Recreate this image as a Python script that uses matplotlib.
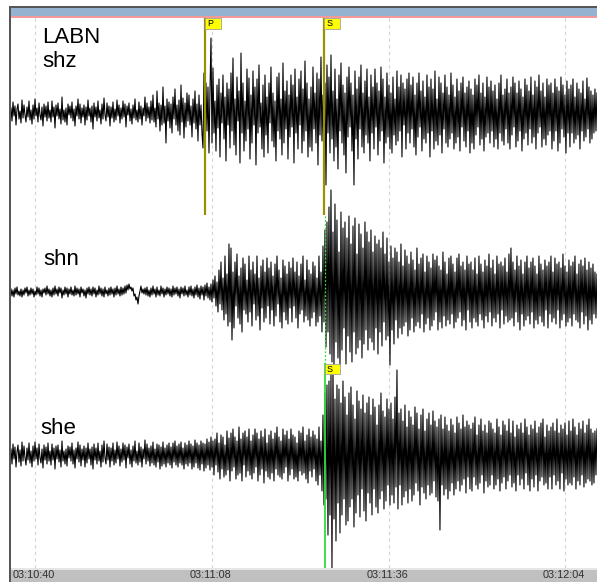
import numpy as np
import matplotlib
matplotlib.use("Agg")
import matplotlib.pyplot as plt
from matplotlib.patches import Rectangle

plt.rcParams['font.family'] = ['Liberation Sans', 'DejaVu Sans']

# ---- data -------------------------------------------------------------
station = "LABN"
channels = ["shz", "shn", "she"]

# time axis: seconds after 03:10:00
t_start = 36.2
dt = 0.15835
t_end = 129.0
tick_seconds = [40, 68, 96, 124]

# picks (seconds after 03:10:00)
pick_p = 66.9
pick_s = 85.8
pick_s_she = 85.85

# trace samples (amplitude, positive up)
shz = [
    5, -8, 11, -3, 7, -12, 4, 9, -6, 2, -10, 13, -5, 8, -2, -9, 6, -4, 12, -7,
    3, -11, 8, -6, 14, -3, 5, -9, 10, -2, -7, 6, -13, 9, -4, 7, -8, 11, -5, 3,
    -9, 12, -4, 6, -15, 8, -3, 10, -6, 4, -11, 16, -7, 3, -9, 5, -12, 9, -2, 7,
    -5, 11, -8, 4, -13, 7, -3, 14, -6, 9, -10, 5, -4, 8, -12, 6, -7, 13, -3, 5,
    -9, 7, -16, 10, -4, 6, -8, 12, -5, 3, -11, 9, -6, 15, -2, -8, 10, -4, 7, -13,
    6, -5, 11, -9, 4, -7, 13, -3, 8, -10, 5, -6, 12, -4, 9, -14, 7, -2, 10, -8,
    4, -11, 8, -5, 14, -7, 3, -9, 11, -6, 7, -12, 5, -3, 16, -8, 10, -5, 6, -10,
    12, -7, 18, -9, 5, -14, 22, -6, 10, -18, 8, -12, 26, -10, 7, -30, 14, -8, 11, -15,
    9, -20, 16, -6, 24, -12, 8, -18, 13, -22, 28, -9, 15, -25, 10, -14, 20, -8, 18, -12,
    7, -24, 14, -10, 22, -16, 9, -28, 18, -12, 8, -20, -35, 40, -25, 30, -18, 26, -40, 22,
    75, -30, 45, -20, 12, -38, 28, -15, 34, -44, 20, -10, 38, -26, 16, -48, 30, -12, 24, -35,
    40, -18, 55, -32, 14, -42, 36, -8, 22, -50, 60, -20, 30, -38, 12, -28, 44, -16, 35, -46,
    18, -30, 42, -12, 26, -52, 34, -20, 48, -14, 10, -36, 28, -44, 38, -22, 16, -40, 30, -10,
    46, -28, 20, -34, 12, -48, 36, -18, 40, -26, 14, -42, 50, -30, 22, -16, 32, -46, 18, -24,
    38, -14, 28, -50, 44, -20, 16, -36, 34, -12, 42, -40, 24, -28, 52, -18, 30, -44, 14, -34,
    26, -38, 46, -16, 20, -30, 40, -52, 34, -22, 56, -28, 18, -44, 30, -72, 48, -20, 36, -40,
    58, -26, 22, -48, 44, -34, 14, -56, 38, -18, 50, -30, 28, -42, 20, -60, 36, -24, 46, -14,
    30, -38, 18, -72, 42, -26, 24, -46, 36, -16, 48, -34, 20, -40, 32, -22, 44, -30, 16, -48,
    38, -20, 26, -36, 44, -14, 30, -42, 22, -28, 46, -18, 34, -50, 16, -30, 40, -24, 28, -36,
    20, -40, 36, -22, 14, -32, 42, -28, 26, -18, 38, -44, 30, -12, 24, -36, 34, -20, 40, -30,
    28, -16, 36, -34, 18, -42, 30, -24, 40, -14, 22, -38, 32, -26, 16, -30, 38, -20, 26, -44,
    34, -18, 24, -36, 42, -28, 14, -32, 36, -22, 30, -40, 20, -16, 38, -30, 26, -34, 18, -26,
    40, -20, 28, -36, 16, -30, 34, -24, 22, -38, 30, -14, 36, -28, 20, -34, 26, -18, 32, -40,
    24, -30, 18, -36, 34, -22, 28, -14, 38, -32, 20, -26, 30, -38, 16, -24, 36, -20, 26, -30,
    32, -18, 22, -34, 28, -26, 14, -36, 30, -20, 38, -28, 18, -32, 24, -16, 34, -30, 20, -36,
    26, -22, 36, -14, 30, -34, 20, -28, 32, -18, 24, -38, 16, -26, 34, -20, 28, -32, 22, -16,
    36, -30, 18, -24, 32, -36, 26, -20, 38, -14, 22, -34, 30, -26, 16, -32, 34, -22, 28, -18,
    30, -36, 20, -28, 34, -18, 26, -38, 22, -30, 36, -16, 28, -24, 18, -40, 32, -20, 24, -34,
    28, -20, 34, -30, 16, -26, 30, -22, 24, -36, 20, -18, 32, -28, 14, -24, 35, -16, 26, -30,
    22, -26, 18, -20, 24, -18, 20,
]

shn = [
    3, -4, 2, -5, 4, -2, 5, -3, 1, -4, 3, -5, 2, -3, 4, -1, 5, -4, 2, -3,
    4, -2, 3, -5, 1, -3, 5, -2, 4, -4, 2, -5, 3, -1, 4, -3, 6, -2, 3, -4,
    2, -5, 4, -3, 6, -2, 3, -4, 5, -1, 4, -6, 2, -3, 5, -2, 4, -5, 3, -2,
    5, -3, 2, -4, 6, -3, 4, -2, 3, -5, 5, -1, 3, -4, 2, -6, 4, -2, 5, -3,
    3, -4, 5, -2, 4, -5, 2, -3, 6, -2, 4, -4, 3, -5, 5, -2, 2, -4, 4, -3,
    5, -2, 3, -5, 4, -3, 6, -2, 3, -4, 5, -3, 4, -2, 6, -1, 7, 2, 8, 3,
    5, 1, 4, -4, -2, -8, -5, -12, -4, 1, 6, -1, 3, -2, 4, -3, 5, -4, 2, -5,
    4, -3, 6, -2, 3, -5, 5, -3, 2, -4, 6, -2, 4, -5, 3, -3, 5, -2, 4, -4,
    3, -5, 6, -3, 4, -2, 5, -4, 3, -6, 5, -2, 4, -4, 6, -3, 2, -5, 5, -3,
    6, -4, 3, -6, 5, -3, 7, -5, 4, -7, 6, -3, 5, -8, 7, -4, 9, -6, 5, -8,
    8, -10, 12, -6, 16, -14, 10, -20, 22, -12, 30, -18, 14, -28, 36, -22, 18, -34, 48, -30,
    44, -48, 20, -36, 30, -14, 38, -26, 16, -32, 24, -40, 34, -18, 28, -22, 12, -30, 36, -20,
    22, -34, 30, -12, 18, -28, 36, -24, 14, -38, 26, -16, 32, -30, 20, -26, 34, -14, 24, -32,
    30, -18, 16, -34, 28, -24, 36, -12, 22, -30, 14, -36, 32, -20, 26, -28, 18, -32, 30, -16,
    24, -30, 34, -14, 20, -26, 30, -36, 16, -22, 28, -18, 36, -30, 12, -24, 32, -28, 22, -34,
    18, -26, 30, -20, 26, -34, 14, -30, 36, -24, 20, -40, 46, -30, 62, -55, 70, -40, 85, -62,
    102, -70, 60, -78, 88, -50, 72, -66, 40, -74, 80, -58, 64, -36, 70, -72, 54, -44, 76, -60,
    48, -70, 66, -40, 74, -62, 38, -56, 68, -48, 58, -66, 44, -52, 70, -38, 60, -58, 50, -46,
    62, -50, 40, -58, 56, -36, 48, -62, 52, -40, 44, -54, 60, -30, 38, -48, 54, -44, 30, -73,
    46, -38, 34, -52, 44, -28, 40, -46, 30, -36, 48, -42, 26, -34, 42, -30, 36, -44, 28, -38,
    40, -26, 32, -40, 22, -34, 44, -30, 28, -36, 34, -22, 38, -40, 20, -32, 36, -26, 30, -38,
    24, -34, 38, -28, 32, -20, 36, -38, 26, -30, 22, -36, 40, -24, 30, -34, 18, -28, 34, -32,
    36, -22, 28, -36, 20, -30, 34, -26, 38, -20, 26, -34, 30, -28, 22, -38, 36, -18, 28, -30,
    30, -36, 22, -26, 34, -30, 18, -34, 36, -22, 28, -28, 20, -36, 32, -24, 26, -30, 38, -20,
    24, -34, 32, -26, 18, -30, 36, -22, 28, -36, 30, -18, 26, -32, 34, -24, 20, -30, 38, -28,
    44, -26, 30, -34, 22, -20, 36, -30, 26, -38, 32, -22, 18, -34, 30, -28, 36, -24, 24, -32,
    30, -20, 34, -36, 26, -28, 18, -32, 36, -24, 28, -30, 22, -34, 32, -18, 26, -36, 30, -22,
    36, -30, 20, -26, 34, -32, 28, -18, 30, -36, 24, -28, 38, -22, 26, -34, 20, -30, 32, -26,
    26, -34, 30, -22, 36, -28, 18, -30, 28, -36, 32, -20, 26, -32, 34, -24, 22, -38, 30, -28,
    24, -32, 28, -22, 20, -26, 18,
]

she = [
    6, -9, 11, -4, 8, -12, 3, 10, -7, 5, -11, 13, -6, 9, -3, -10, 7, -5, 12, -8,
    4, -12, 9, -6, 13, -4, 7, -10, 11, -3, -8, 6, -13, 10, -5, 8, -9, 12, -6, 4,
    -10, 11, -5, 7, -14, 9, -4, 10, -7, 5, -12, 14, -6, 4, -9, 6, -11, 9, -3, 8,
    -6, 12, -9, 5, -13, 7, -4, 13, -7, 10, -11, 6, -5, 9, -12, 7, -8, 12, -4, 6,
    -10, 8, -14, 11, -5, 7, -9, 12, -6, 4, -12, 10, -7, 14, -3, -9, 11, -5, 8, -12,
    7, -6, 12, -10, 5, -8, 13, -4, 9, -11, 6, -7, 12, -5, 10, -13, 8, -3, 11, -9,
    5, -12, 9, -6, 14, -8, 4, -10, 12, -7, 8, -12, 6, -4, 15, -9, 11, -6, 7, -11,
    9, -8, 13, -10, 6, -12, 11, -7, 10, -14, 8, -11, 13, -9, 7, -12, 10, -8, 12, -10,
    8, -13, 12, -7, 14, -10, 9, -12, 11, -8, 13, -10, 7, -14, 12, -9, 10, -11, 14, -8,
    11, -14, 9, -12, 15, -8, 12, -13, 10, -15, 14, -9, 12, -16, 11, -13, 16, -10, 13, -15,
    18, -12, 14, -20, 16, -10, 22, -17, 12, -24, 20, -14, 18, -22, 10, -20, 24, -15, 17, -26,
    22, -16, 26, -12, 18, -24, 14, -20, 28, -18, 16, -26, 22, -10, 24, -22, 18, -16, 26, -20,
    14, -24, 20, -18, 26, -12, 22, -26, 16, -20, 24, -14, 18, -28, 26, -16, 12, -22, 20, -24,
    24, -18, 16, -26, 22, -14, 28, -20, 18, -22, 14, -24, 26, -18, 20, -12, 24, -26, 16, -20,
    26, -14, 20, -24, 18, -22, 12, -26, 24, -16, 22, -20, 28, -18, 14, -24, 20, -28, 26, -16,
    18, -22, 24, -14, 20, -26, 16, -30, 28, -20, 14, -36, 40, -50, 62, -44, 70, -80, 74, -60,
    82, -113, 90, -64, 56, -86, 70, -48, 66, -78, 52, -60, 74, -44, 58, -70, 40, -66, 62, -52,
    68, -44, 50, -72, 36, -58, 64, -40, 54, -62, 46, -34, 60, -56, 42, -66, 52, -38, 58, -48,
    40, -60, 56, -34, 48, -52, 30, -58, 50, -44, 62, -36, 44, -54, 38, -46, 56, -30, 46, -50,
    52, -40, 36, -48, 58, -32, 85, -54, 42, -30, 46, -50, 34, -42, 50, -36, 28, -48, 44, -34,
    38, -46, 30, -40, 48, -28, 42, -36, 26, -50, 40, -32, 46, -38, 24, -44, 36, -30, 42, -40,
    30, -38, 44, -26, 34, -42, 28, -46, 36, -75, 40, -30, 26, -40, 38, -34, 30, -44, 24, -36,
    36, -28, 30, -40, 22, -34, 38, -26, 32, -36, 26, -30, 40, -24, 28, -38, 34, -22, 30, -34,
    26, -36, 32, -22, 38, -30, 20, -34, 30, -28, 36, -20, 24, -38, 30, -26, 22, -32, 34, -30,
    32, -20, 26, -34, 22, -30, 36, -24, 28, -36, 20, -28, 34, -22, 30, -34, 24, -26, 36, -20,
    22, -32, 34, -28, 18, -36, 30, -20, 26, -30, 32, -24, 22, -34, 36, -18, 28, -30, 20, -36,
    30, -24, 26, -32, 34, -20, 22, -36, 28, -26, 32, -22, 36, -30, 18, -28, 30, -34, 24, -22,
    28, -34, 32, -20, 24, -30, 36, -26, 22, -34, 30, -18, 26, -36, 32, -24, 20, -30, 34, -28,
    24, -30, 36, -22, 28, -34, 20, -26, 32, -30, 26, -20, 34, -32, 22, -28, 30, -24, 36, -26,
    26, -30, 22, -28, 24, -20, 26,
]

# vertical baseline of each channel within the panel (panel height 550)
baselines = [455, 276, 113]

# ---- figure -----------------------------------------------------------
W, H = 597, 582
PX_PER_S = 6.315
fig = plt.figure(figsize=(W / 100, H / 100), dpi=100)
fig.patch.set_facecolor("white")


def fig_rect(x0, y0, x1, y1, color):
    """Rectangle given in pixel coordinates measured from the top-left corner."""
    fig.add_artist(Rectangle((x0 / W, 1 - y1 / H), (x1 - x0) / W, (y1 - y0) / H,
                             transform=fig.transFigure, facecolor=color,
                             edgecolor="none", zorder=0))


# window chrome
fig_rect(9, 6, W, 8.3, "#565656")
fig_rect(9, 6, 11, H, "#565656")
fig_rect(11, 8.3, W, 16.3, "#95b2d0")
fig_rect(11, 16.3, W, 18, "#f29a9a")
fig_rect(11, 568, W, 569.5, "#e6e6e6")
fig_rect(11, 569.5, W, H, "#c0c0c0")

ax = fig.add_axes([11 / W, 14 / H, 586 / W, 550 / H])
ax.set_xlim(t_start, t_end)
ax.set_ylim(0, 550)
ax.axis("off")

# time grid
for ts in tick_seconds:
    ax.axvline(ts, color="#d4d4d4", lw=0.8, ls=(0, (3, 3)), zorder=1)
    label = "03:%02d:%02d" % (10 + ts // 60, ts % 60)
    ax.text(ts - 0.2, -7.5, label, ha="center", va="center", fontsize=7.8,
            color="#303030", clip_on=False)

# traces
for samples, base in zip([shz, shn, she], baselines):
    y = np.asarray(samples, dtype=float)
    t = t_start + dt * np.arange(len(y))
    ax.plot(t, base + y, color="black", lw=0.8, zorder=3)

# station / channel labels
ax.text(t_start + 31 / PX_PER_S, 568 - 43, station, fontsize=16, color="black",
        va="baseline", ha="left", zorder=5)
label_pos = [(31, 67), (32, 265), (29, 434)]
for name, (px, py) in zip(channels, label_pos):
    ax.text(t_start + px / PX_PER_S, 568 - py, name, fontsize=16, color="black",
            va="baseline", ha="left", zorder=5)

# picks
pick_color = "#9a9000"
box_w = 16 / PX_PER_S
y_pick_end = 568 - 215
for tp, name in [(pick_p, "P"), (pick_s, "S")]:
    ax.plot([tp, tp], [y_pick_end, 550], color=pick_color, lw=1.6, zorder=6,
            solid_capstyle="butt")
    ax.add_patch(Rectangle((tp, 539), box_w, 11, facecolor="#ffff00",
                           edgecolor="#a0a0a0", lw=0.6, zorder=7))
    ax.text(tp + 0.35, 544.5, name, fontsize=6.5, va="center", ha="left",
            color="black", zorder=8)

# S pick on the horizontal (she) component
green = "#33dd33"
y_box_top = 568 - 364
ax.plot([pick_s_she, pick_s_she], [y_box_top, y_pick_end], color=green, lw=0.9,
        ls=(0, (1.5, 1.5)), zorder=6)
ax.plot([pick_s_she, pick_s_she], [0, y_box_top], color=green, lw=1.3, zorder=6)
ax.add_patch(Rectangle((pick_s_she, y_box_top - 10), box_w * 0.95, 10,
                       facecolor="#ffff00", edgecolor="#a0a0a0", lw=0.6, zorder=7))
ax.text(pick_s_she + 0.35, y_box_top - 5, "S", fontsize=6.5, va="center",
        ha="left", color="black", zorder=8)

fig.savefig("out.png", dpi=100)
